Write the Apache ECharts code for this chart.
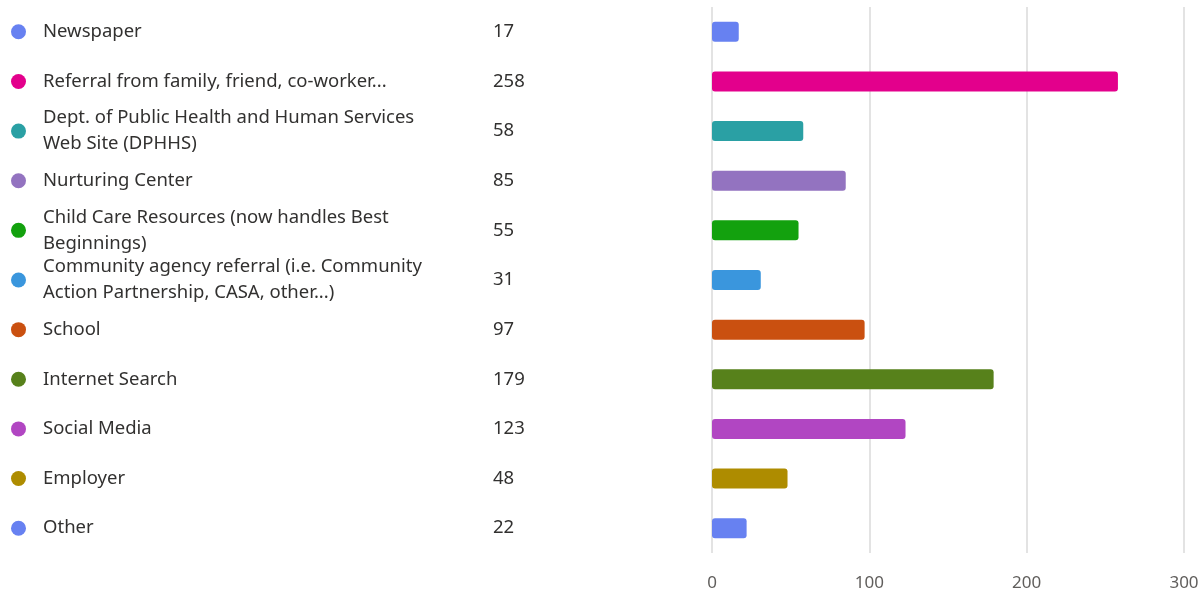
<!DOCTYPE html>
<html>
<head>
<meta charset="utf-8">
<title>How did you hear about us?</title>
<script src="https://cdn.jsdelivr.net/npm/echarts@6/dist/echarts.min.js"></script>
<style>
  html, body { margin: 0; padding: 0; background: #ffffff; }
  #chart { width: 1203px; height: 596px; }
</style>
</head>
<body>
<div id="chart"></div>
<script>
// Response options (line breaks follow the label wrapping in the list)
const categories = [
  'Newspaper',
  'Referral from family, friend, co-worker...',
  'Dept. of Public Health and Human Services\nWeb Site (DPHHS)',
  'Nurturing Center',
  'Child Care Resources (now handles Best\nBeginnings)',
  'Community agency referral (i.e. Community\nAction Partnership, CASA, other...)',
  'School',
  'Internet Search',
  'Social Media',
  'Employer',
  'Other'
];

// Number of responses for each option
const responses = [17, 258, 58, 85, 55, 31, 97, 179, 123, 48, 22];

// One colour per option
const colors = [
  '#6781f1', '#e3008c', '#2aa0a4', '#9373c0', '#13a10e', '#3a96dd',
  '#ca5010', '#57811b', '#b146c2', '#ae8c00', '#6781f1'
];

// Horizontal axis ticks
const xTicks = [0, 100, 200, 300];

const textColor = '#323130';
const font = '"Noto Sans", "Open Sans", sans-serif';

const dotRich = {};
colors.forEach((c, i) => {
  dotRich['d' + i] = { width: 15, height: 15, borderRadius: 7.5, backgroundColor: c };
});

const baseY = {
  type: 'category',
  data: categories,
  inverse: true,
  position: 'left',
  offset: 0,
  axisLine: { show: false },
  axisTick: { show: false },
  splitLine: { show: false }
};

const chart = echarts.init(document.getElementById('chart'), null, { renderer: 'canvas' });

chart.setOption({
  animation: false,
  grid: { left: 712, right: 19, top: 7, bottom: 43, containLabel: false },
  xAxis: {
    type: 'value',
    min: xTicks[0],
    max: xTicks[xTicks.length - 1],
    interval: 100,
    axisLine: { show: false },
    axisTick: { show: false },
    splitLine: { show: true, lineStyle: { color: '#e3e3e3', width: 2 } },
    axisLabel: { color: '#605e5c', fontSize: 17, fontFamily: font, margin: 22 }
  },
  yAxis: [
    Object.assign({}, baseY, {
      axisLabel: {
        align: 'left', margin: 669, color: textColor, fontSize: 18.5,
        lineHeight: 26, fontFamily: font
      }
    }),
    Object.assign({}, baseY, {
      axisLabel: {
        align: 'left', margin: 219, color: textColor, fontSize: 18.5, fontFamily: font,
        formatter: (v, i) => String(responses[i])
      }
    }),
    Object.assign({}, baseY, {
      axisLabel: {
        align: 'left', margin: 701,
        formatter: (v, i) => '{d' + i + '|}',
        rich: dotRich
      }
    })
  ],
  series: [{
    type: 'bar',
    yAxisIndex: 0,
    data: responses.map((v, i) => ({ value: v, itemStyle: { color: colors[i] } })),
    barWidth: 20,
    itemStyle: { borderRadius: 3 },
    silent: true
  }]
});
</script>
</body>
</html>
